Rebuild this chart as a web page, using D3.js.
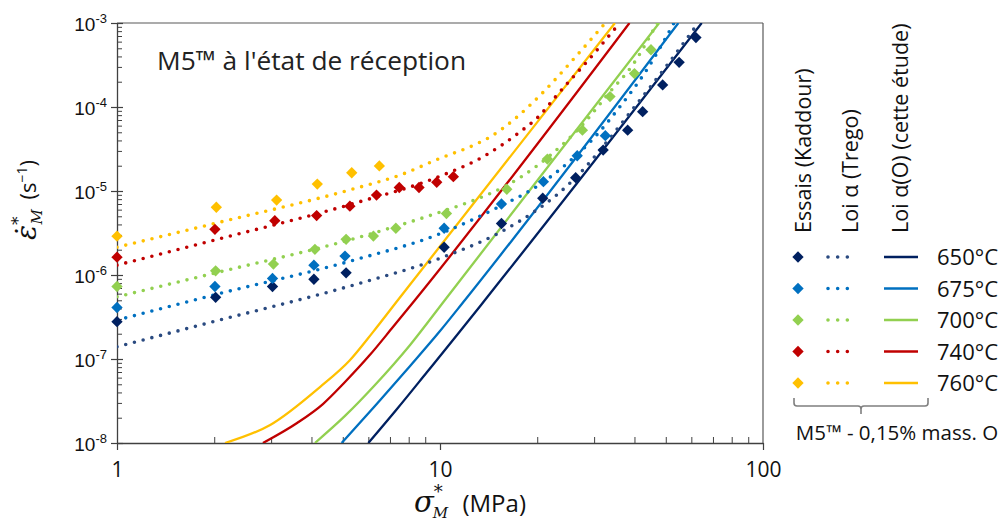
<!DOCTYPE html>
<html><head><meta charset="utf-8">
<script src="https://cdn.jsdelivr.net/npm/d3@7"></script>
<style>body{margin:0;background:#fff} svg{display:block}</style>
</head><body><svg id="c" width="1000" height="522"></svg>
<script>
// ---------- data ----------
const temps = ["650°C","675°C","700°C","740°C","760°C"];
const colors = ["#002060","#0070C0","#92D050","#C00000","#FFC000"];
const dotColors = ["#2A4A80","#0070C0","#92D050","#C00000","#FFC000"];

// Essais (Kaddour): [sigma MPa, strain rate s-1]
const essais650 = [[1,2.78e-7],[2.02,5.42e-7],[3.03,7.3e-7],[4.07,8.9e-7],[5.12,1.06e-6],[10.3,2.14e-6],[15.5,4.1e-6],[20.8,8.2e-6],[26.3,1.44e-5],[32.0,3.07e-5],[38.1,5.3e-5],[42.4,8.8e-5],[48.9,1.83e-4],[55.0,3.4e-4],[62.0,6.7e-4]];
const essais675 = [[1,4.1e-7],[2.01,7.3e-7],[3.03,9.1e-7],[4.07,1.31e-6],[5.08,1.68e-6],[10.3,3.6e-6],[15.5,7.0e-6],[20.9,1.29e-5],[26.6,2.63e-5],[32.5,4.56e-5]];
const essais700 = [[1,7.3e-7],[2.02,1.12e-6],[3.05,1.35e-6],[4.10,2.02e-6],[5.12,2.66e-6],[6.22,2.91e-6],[7.3,3.6e-6],[10.47,5.4e-6],[16.1,1.05e-5],[21.5,2.4e-5],[27.6,5.3e-5],[33.6,1.33e-4],[40.0,2.5e-4],[45.0,4.8e-4]];
const essais740 = [[1,1.63e-6],[2.01,3.5e-6],[3.08,4.43e-6],[4.15,5.1e-6],[5.26,6.6e-6],[6.36,8.95e-6],[7.48,1.1e-5],[8.61,1.1e-5],[9.77,1.27e-5],[11.0,1.48e-5]];
const essais760 = [[1,2.9e-6],[2.03,6.4e-6],[3.12,7.8e-6],[4.17,1.21e-5],[5.33,1.65e-5],[6.49,1.99e-5]];

// Loi alpha (Trego) - dotted
const trego650 = [[1,1.4e-7],[2,2.8e-7],[5.4,7.6e-7],[10,1.58e-6],[15.3,3.2e-6],[20,6e-6],[23,9e-6],[27,1.6e-5],[32,3.4e-5],[40,1.0e-4],[50,3.0e-4],[63,1e-3]];
const trego675 = [[1,2.9e-7],[2,5.8e-7],[5.4,1.5e-6],[10,3.1e-6],[15,6.3e-6],[20.4,1.2e-5],[25,2.2e-5],[30,4.3e-5],[36,1.0e-4],[44,2.9e-4],[53,1e-3]];
const trego700 = [[1,5.5e-7],[2,1.05e-6],[5.4,2.7e-6],[10,5.6e-6],[13,8e-6],[16,1.15e-5],[20,2.0e-5],[24,3.6e-5],[28,6.5e-5],[33,1.4e-4],[40,3.4e-4],[47,1e-3]];
const trego740 = [[1,1.31e-6],[2,2.6e-6],[5.4,7.1e-6],[10,1.5e-5],[13.7,2.6e-5],[17.5,4.9e-5],[20.4,8e-5],[22.7,1.3e-4],[30.1,4.4e-4],[36,1e-3]];
const trego760 = [[1,2.14e-6],[2,4.1e-6],[5.4,1.06e-5],[7.53,1.55e-5],[10,2.45e-5],[12.7,3.5e-5],[14.3,4.4e-5],[17.1,7.3e-5],[20.8,1.48e-4],[26.2,3.9e-4],[32.5,1e-3]];

// Loi alpha(O) (cette etude) - solid
const loiO650 = [[6.00,1e-8],[7.36,2.54e-8],[9.12,7.0e-8],[11.29,1.93e-7],[13.78,5.04e-7],[64.6,1e-3]];
const loiO675 = [[4.96,1e-8],[6.37,2.91e-8],[8.08,8.26e-8],[10.0,2.15e-7],[11.95,5.04e-7],[54.7,1e-3]];
const loiO700 = [[4.10,1e-8],[5.08,2.10e-8],[6.29,4.90e-8],[8.08,1.47e-7],[10.36,5.04e-7],[47.7,1e-3]];
const loiO740 = [[2.83,1e-8],[3.61,1.73e-8],[4.34,2.91e-8],[5.08,5.32e-8],[6.07,1.12e-7],[7.15,2.40e-7],[8.37,5.04e-7],[38.6,1e-3]];
const loiO760 = [[2.16,1e-8],[2.98,1.64e-8],[4.25,4.64e-8],[5.25,9.6e-8],[6.20,2.09e-7],[7.41,5.04e-7],[34.8,1e-3]];

const essais = [essais650,essais675,essais700,essais740,essais760];
const trego = [trego650,trego675,trego700,trego740,trego760];
const loiO = [loiO650,loiO675,loiO700,loiO740,loiO760];

const xMajor = [1,10,100];
const xMinor = [2,3,4,5,6,7,8,9,20,30,40,50,60,70,80,90];
const yMajorExp = [-8,-7,-6,-5,-4,-3];
const yMinor = [];
[-8,-7,-6,-5,-4].forEach(e=>{for(let m=2;m<=9;m++) yMinor.push(m*Math.pow(10,e));});

// ---------- layout ----------
const X0=117, X1=763, Y0=443, Y1=23;
const x = d3.scaleLog().domain([1,100]).range([X0,X1]);
const y = d3.scaleLog().domain([1e-8,1e-3]).range([Y0,Y1]);
const svg = d3.select("#c");
const SANS = "'Open Sans', 'Noto Sans', sans-serif";
const ARIAL = "'Liberation Sans', Arial, sans-serif";
const SERIF = "'DejaVu Serif', 'Liberation Serif', serif";

svg.append("defs").append("clipPath").attr("id","clip")
  .append("rect").attr("x",X0).attr("y",Y1).attr("width",X1-X0).attr("height",Y0-Y1);

// frame top/right
svg.append("line").attr("x1",X0).attr("x2",X1).attr("y1",Y1).attr("y2",Y1).attr("stroke","#595959").attr("stroke-width",1.2);
svg.append("line").attr("x1",X1).attr("x2",X1).attr("y1",Y1).attr("y2",Y0).attr("stroke","#595959").attr("stroke-width",1.2);

// x axis
const gx = svg.append("g").attr("transform",`translate(0,${Y0})`)
  .call(d3.axisBottom(x).tickValues(xMajor).tickSize(7).tickSizeOuter(0).tickPadding(12).tickFormat(d3.format("d")));
gx.select(".domain").attr("stroke","#404040").attr("stroke-width",1.3);
gx.selectAll(".tick line").attr("stroke","#404040").attr("stroke-width",1.2);
gx.selectAll(".tick text").attr("font-family",SANS).attr("font-size",21).attr("fill","#111");
const gxm = svg.append("g").attr("transform",`translate(0,${Y0})`)
  .call(d3.axisBottom(x).tickValues(xMinor).tickSize(-6).tickSizeOuter(0).tickFormat(""));
gxm.select(".domain").remove();
gxm.selectAll(".tick line").attr("stroke","#404040").attr("stroke-width",1);

// y axis
const gy = svg.append("g").attr("transform",`translate(${X0},0)`)
  .call(d3.axisLeft(y).tickValues(yMajorExp.map(e=>Math.pow(10,e))).tickSize(6).tickSizeOuter(0).tickPadding(4).tickFormat(""));
gy.select(".domain").attr("stroke","#404040").attr("stroke-width",1.3);
gy.selectAll(".tick line").attr("stroke","#404040").attr("stroke-width",1.2);
gy.selectAll(".tick text").remove();
gy.selectAll(".tick").each(function(d){
  const t = d3.select(this).append("text").attr("x",-10).attr("y",7).attr("text-anchor","end")
    .attr("font-family",ARIAL).attr("font-size",19).attr("fill","#111");
  t.append("tspan").text("10");
  t.append("tspan").attr("font-size",13).attr("dy",-8).text(String(Math.round(Math.log10(d))));
});
const gyi = svg.append("g").attr("transform",`translate(${X0},0)`)
  .call(d3.axisLeft(y).tickValues(yMajorExp.map(e=>Math.pow(10,e))).tickSize(-6).tickSizeOuter(0).tickFormat(""));
gyi.select(".domain").remove();
gyi.selectAll(".tick line").attr("stroke","#404040").attr("stroke-width",1.2);
const gym = svg.append("g").attr("transform",`translate(${X0},0)`)
  .call(d3.axisLeft(y).tickValues(yMinor).tickSize(-5).tickSizeOuter(0).tickFormat(""));
gym.select(".domain").remove();
gym.selectAll(".tick line").attr("stroke","#404040").attr("stroke-width",1);

// ---------- marks ----------
const plot = svg.append("g").attr("clip-path","url(#clip)");
const line = d3.line().x(d=>x(d[0])).y(d=>y(d[1])).curve(d3.curveMonotoneX);

loiO.forEach((s,i)=>{
  plot.append("path").datum(s).attr("d",line).attr("fill","none")
    .attr("stroke",colors[i]).attr("stroke-width",2.3);
});
trego.forEach((s,i)=>{
  plot.append("path").datum(s).attr("d",line).attr("fill","none")
    .attr("stroke",dotColors[i]).attr("stroke-width",3.6)
    .attr("stroke-linecap","round").attr("stroke-dasharray","0,9");
});
const diamond = d3.symbol().type(d3.symbolSquare).size(64);
const gm = svg.append("g");
essais.forEach((s,i)=>{
  gm.selectAll(null).data(s).enter().append("path").attr("d",diamond)
    .attr("transform",d=>`translate(${x(d[0])},${y(d[1])}) rotate(45)`)
    .attr("fill",colors[i]);
});

// ---------- texts ----------
svg.append("text").attr("x",157).attr("y",70).attr("font-family",SANS).attr("font-size",26.3).attr("fill","#222")
  .text("M5™ à l'état de réception");

// y label
const yl = svg.append("text").attr("transform","translate(36,200) rotate(-90)").attr("text-anchor","middle")
  .attr("font-family",SANS).attr("font-size",22).attr("fill","#111");
yl.append("tspan").attr("font-family",SERIF).attr("font-style","italic").attr("font-size",28).text("ε̇");
yl.append("tspan").attr("font-family",SERIF).attr("font-size",17).attr("dy",-12).text("*");
yl.append("tspan").attr("font-family",SERIF).attr("font-style","italic").attr("font-size",15).attr("dy",18).attr("dx",-8).text("M");
yl.append("tspan").attr("dy",-6).attr("dx",4).text(" (s");
yl.append("tspan").attr("font-size",14).attr("dy",-9).text("−1");
yl.append("tspan").attr("dy",9).text(")");

// x label
const xl = svg.append("text").attr("x",470).attr("y",512).attr("text-anchor","middle")
  .attr("font-family",SANS).attr("font-size",24).attr("fill","#111");
xl.append("tspan").attr("font-family",SERIF).attr("font-style","italic").attr("font-size",29).text("σ");
xl.append("tspan").attr("font-family",SERIF).attr("font-size",18).attr("dy",-14).text("*");
xl.append("tspan").attr("font-family",SERIF).attr("font-style","italic").attr("font-size",15).attr("dy",20).attr("dx",-10).text("M");
xl.append("tspan").attr("dy",-6).attr("dx",8).text(" (MPa)");

// ---------- legend ----------
const headers = ["Essais (Kaddour)","Loi α (Trego)","Loi α(O) (cette étude)"];
const headerX = [811,858,908];
headers.forEach((h,i)=>{
  svg.append("text").attr("transform",`translate(${headerX[i]},233) rotate(-90)`)
    .attr("font-family",SANS).attr("font-size",21.5).attr("fill","#111").text(h);
});
const rowY = [257,288.5,320,351.5,383];
temps.forEach((t,i)=>{
  const yy = rowY[i];
  svg.append("path").attr("d",diamond).attr("transform",`translate(798,${yy}) rotate(45)`).attr("fill",colors[i]);
  svg.append("line").attr("x1",828).attr("x2",857).attr("y1",yy).attr("y2",yy)
    .attr("stroke",dotColors[i]).attr("stroke-width",3.6).attr("stroke-linecap","round").attr("stroke-dasharray","0,9.67");
  svg.append("line").attr("x1",884).attr("x2",918).attr("y1",yy).attr("y2",yy)
    .attr("stroke",colors[i]).attr("stroke-width",2.3);
  svg.append("text").attr("x",937).attr("y",yy+8).attr("font-family",SANS).attr("font-size",22).attr("fill","#111").text(t);
});
svg.append("path")
  .attr("d","M794,398 L794,403 Q794,406 797,406 L858,406 Q861,406 861,409 L861,414 L861,409 Q861,406 864,406 L925,406 Q928,406 928,403 L928,398")
  .attr("fill","none").attr("stroke","#7f7f7f").attr("stroke-width",1.6);
svg.append("text").attr("x",897).attr("y",440).attr("text-anchor","middle").attr("font-family",SANS).attr("font-size",20.5).attr("fill","#111")
  .text("M5™ - 0,15% mass. O");
</script></body></html>
